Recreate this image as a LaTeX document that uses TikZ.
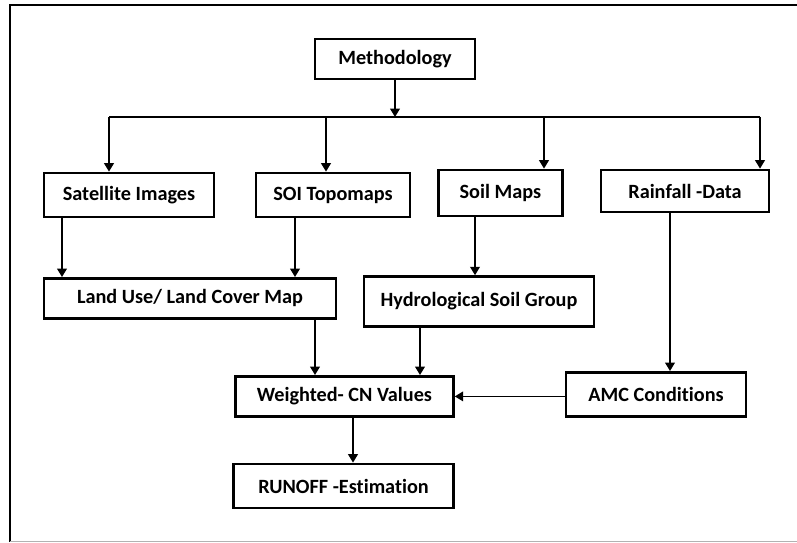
\documentclass[tikz,border=0pt]{standalone}
\usepackage{fontspec}
\setmainfont{Carlito}[Ligatures=NoCommon]
\usetikzlibrary{arrows.meta}

\begin{document}
\begin{tikzpicture}[
  every node/.style = {font=\fontsize{14.4}{16}\selectfont\bfseries},
  box/.style   = {draw, rectangle, line width=2pt, align=center,
                  fill=white, inner sep=3pt},
  go/.style    = {-{Triangle[width=7pt,length=6pt]}, line width=0.9pt},
  bus/.style   = {line width=0.8pt},
  frame/.style = {line width=1.6pt},
]
\useasboundingbox (0,0) rectangle (19.925,-13.575);

% outer frame (no right edge, light bottom)
\draw[frame] (19.925,-0.125) -- (0.25,-0.125) -- (0.25,-13.54);
\draw[gray!60, line width=1pt] (0.25,-13.54) -- (19.925,-13.54);

% --- top ------------------------------------------------------------------
\node[box, minimum width=4.0cm, minimum height=1.0cm] (meth) at (9.875,-1.475) {Methodology};

\coordinate (b1) at (2.725,-2.925);
\coordinate (b2) at (8.15,-2.925);
\coordinate (b3) at (13.6,-2.925);
\coordinate (b4) at (19.0,-2.925);
\draw[bus] (b1) -- (b4);
\draw[go] (meth.south) -- (meth.south |- b1);

% --- data sources ---------------------------------------------------------
\node[box, minimum width=4.25cm, minimum height=1.1cm] (sat)  at (3.225,-4.875) {Satellite Images};
\node[box, minimum width=3.85cm, minimum height=1.1cm] (soi)  at (8.325,-4.875) {SOI Topomaps};
\node[box, minimum width=3.1cm,  minimum height=1.15cm] (soil) at (12.51,-4.825) {Soil Maps};
\node[box, minimum width=4.2cm,  minimum height=1.05cm] (rain) at (17.125,-4.775) {Rainfall -Data};

\draw[go] (b1) -- (b1 |- sat.north);
\draw[go] (b2) -- (b2 |- soi.north);
\draw[go] (b3) -- (b3 |- soil.north);
\draw[go] (b4) -- (b4 |- rain.north);

% --- derived layers -------------------------------------------------------
\node[box, minimum width=7.3cm, minimum height=1.0cm]  (lulc) at (4.75,-7.46) {Land Use/ Land Cover Map};
\node[box, minimum width=5.75cm, minimum height=1.25cm] (hsg)  at (11.975,-7.54) {Hydrological Soil Group};
\node[box, minimum width=5.45cm, minimum height=1.0cm] (wcn)  at (8.61,-9.91) {Weighted- CN Values};
\node[box, minimum width=4.5cm, minimum height=1.1cm]  (amc)  at (16.4,-9.86) {AMC Conditions};
\node[box, minimum width=5.5cm, minimum height=1.1cm]  (runoff) at (8.59,-12.15) {RUNOFF -Estimation};

\coordinate (x1) at (1.55,0);
\coordinate (x2) at (7.375,0);
\coordinate (x3) at (11.875,0);
\coordinate (x4) at (16.75,0);
\coordinate (x5) at (7.875,0);
\coordinate (x6) at (10.5,0);
\coordinate (x7) at (8.825,0);

\draw[go] (sat.south -| x1) -- (lulc.north -| x1);
\draw[go] (soi.south -| x2) -- (lulc.north -| x2);
\draw[go] (soil.south -| x3) -- (hsg.north -| x3);
\draw[go] (rain.south -| x4) -- (amc.north -| x4);
\draw[go] (lulc.south -| x5) -- (wcn.north -| x5);
\draw[go] (hsg.south -| x6) -- (wcn.north -| x6);
\draw[go] (amc.west |- wcn.east) -- (wcn.east);
\draw[go] (wcn.south -| x7) -- (runoff.north -| x7);

\end{tikzpicture}
\end{document}
